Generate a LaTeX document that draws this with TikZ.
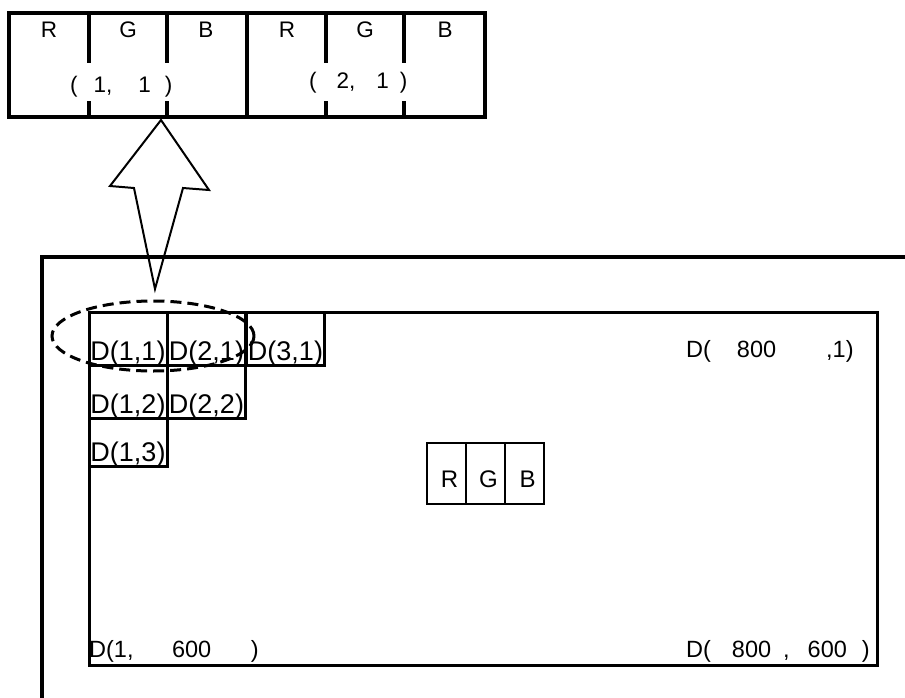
\documentclass[tikz,border=0pt]{standalone}
\usepackage{fontspec}
\setmainfont{Liberation Sans}
\usetikzlibrary{positioning,calc}
\tikzset{cell/.style={draw, line width=3pt, minimum width=78pt, minimum height=53pt, inner sep=0pt},
         rgbcell/.style={draw, line width=2pt, minimum width=39pt, minimum height=61pt, inner sep=0pt},
         celltext/.style={font=\fontsize{27}{30}\selectfont, inner sep=0pt, anchor=base},
         pixtext/.style={font=\fontsize{22.5}{26}\selectfont, inner sep=0pt, anchor=base},
         corner/.style={font=\fontsize{23.5}{27}\selectfont, inner sep=0pt, anchor=base west}}

\begin{document}
\begin{tikzpicture}[x=1pt,y=-1pt]
\useasboundingbox (0,0) rectangle (905,697);

% two pixels in memory
\draw[line width=3.4pt] (9,13) rectangle (485,117);
\draw[line width=3.4pt] (247,13) -- (247,117);
\foreach \x in {89,167,326,404}
         {
           \draw[line width=3.4pt] (\x,13) -- (\x,63);
           \draw[line width=3.4pt] (\x,101) -- (\x,117);
         }
\foreach \n/\x/\t in {r1/49/R, g1/128/G, b1/206/B, r2/287/R, g2/365/G, b2/445/B}
         {
           \node[pixtext] (\n) at (\x,37) {\t};
         }
\node[pixtext, anchor=base west] (p11) at (70,92) {(\hspace{16pt}1,\hspace{26pt}1\hspace{14pt})};
\node[pixtext, anchor=base west] (p21) at (309,88) {(\hspace{20pt}2,\hspace{21pt}1\hspace{11pt})};

% arrow
\draw[line width=2pt, line join=miter] (161,120) -- (209,190) -- (183,188) -- (155,289) -- (134,188) -- (110,186) -- cycle;

% display
\draw[line width=4pt] (42,700) -- (42,257) -- (910,257);
\node[draw, line width=3pt, minimum width=788pt, minimum height=353pt, inner sep=0pt] (screen) at (483,488.5) {};

\foreach \n/\x/\y/\t in {11/128/338.5/{D(1,1)}, 21/206.5/338.5/{D(2,1)}, 31/285.5/338.5/{D(3,1)},
                         12/128/391.5/{D(1,2)}, 22/206.5/391.5/{D(2,2)}}
         {
           \node[cell] (c\n) at (\x,\y) {};
           \node[celltext] (t\n) at ($(c\n.south)+(0,-6)$) {\t};
         }
\node[cell, minimum height=48pt] (c13) at (128,442) {};
\node[celltext] (t13) at ($(c13.south)+(0,-6)$) {D(1,3)};

\draw[line width=3pt, dash pattern=on 11pt off 6pt] (153,336) ellipse [x radius=101, y radius=35];

\node[corner] (d8001) at (686,357) {D(\hspace{26pt}800\hspace{50pt},1)};
\node[corner] (d1600) at (89,657) {D(1,\hspace{38.5pt}600\hspace{39.5pt})};
\node[corner] (d800600) at (686,657) {D(\hspace{21pt}800\hspace{12pt},\hspace{18pt}600\hspace{15pt})};

% one pixel
\node[rgbcell] (pr) at (446.5,473.5) {};
\node[rgbcell] (pg) at (485.5,473.5) {};
\node[rgbcell] (pb) at (524.5,473.5) {};
\node[pixtext, font=\fontsize{24}{28}\selectfont] (lr) at ($(pr.center)+(3,13.5)$) {R};
\node[pixtext, font=\fontsize{24}{28}\selectfont] (lg) at ($(pg.center)+(3,13.5)$) {G};
\node[pixtext, font=\fontsize{24}{28}\selectfont] (lb) at ($(pb.center)+(3,13.5)$) {B};

\end{tikzpicture}
\end{document}
